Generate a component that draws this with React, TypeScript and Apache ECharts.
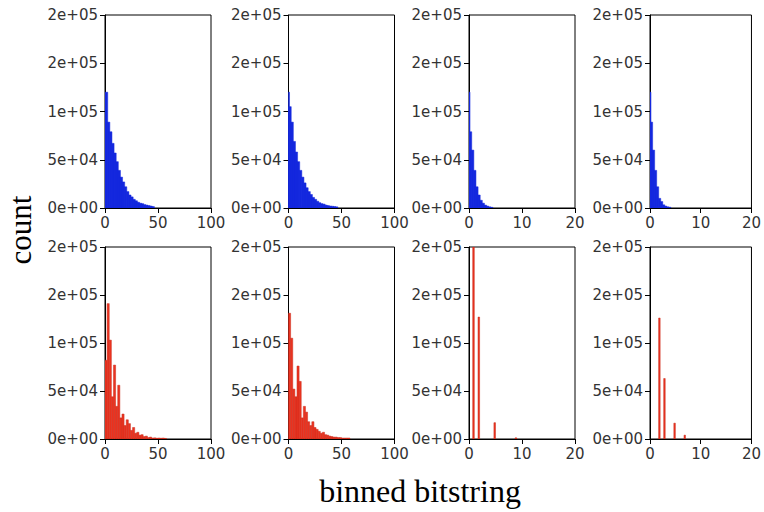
import React, { useEffect, useRef } from "react";
import * as echarts from "echarts";

// bin widths (x units) for the wide (0-100) and narrow (0-20) panels
const BIN_WIDE = 2;
const BIN_NARROW = 0.4;

// top row (blue) counts per bin
const countsA = [120000, 89000, 79000, 67000, 57000, 48000, 39000, 32000, 27000, 22000, 17000, 13500, 11500, 9000, 7500, 6000, 5000, 4500, 3500, 3000, 2500, 2000, 1500];
const countsB = [105000, 89000, 69000, 58000, 48000, 39000, 32000, 26000, 21000, 17000, 14000, 11000, 9000, 7000, 5500, 4500, 4000, 3000, 2500, 2000, 1800, 1500, 1200];
const countsC = [79000, 60000, 39000, 22000, 13500, 8000, 5000, 3000, 2000, 1200, 700];
const countsD = [89000, 60000, 39000, 22000, 10000, 6700, 3300, 2000, 1200, 800];
// thin spike at zero in the blue panels (count)
const zeroSpikeB = 120000;
const zeroSpikeC = 120000;
const zeroSpikeD = 120000;

// bottom row (red) counts per bin
const countsE = [82000, 141000, 103000, 44000, 77000, 34000, 56000, 22000, 26000, 14000, 20000, 16000, 9000, 12000, 6000, 7000, 4000, 4500, 2500, 3000, 1500, 2000, 1000, 1200, 800, 1000, 800, 1000, 600];
const countsF = [131000, 105000, 52000, 44000, 76000, 60000, 22000, 34000, 28000, 18000, 14000, 18000, 12000, 10000, 8000, 6000, 7000, 4500, 4000, 3000, 2500, 2000, 2000, 1500, 1500, 1000, 1000, 1000, 1000];
// isolated spikes: [position, count]
const spikesG: [number, number][] = [[1, 205000], [2, 127000], [5, 17000], [9, 1200]];
const spikesH: [number, number][] = [[2, 126000], [3, 63000], [5, 16500], [7, 4000]];

const xMaxes = [100, 100, 20, 20];
const xIntervals = [50, 50, 10, 10];
const Y_MAX = 200000;
const Y_INTERVAL = 50000;

const AXIS_LABEL_X = "binned bitstring";
const AXIS_LABEL_Y = "count";

function binsToRects(counts: number[], width: number): number[][] {
  return counts.map((c, i) => [i * width, (i + 1) * width, c]);
}
function spikesToRects(spikes: [number, number][], halfWidth: number, shift: number): number[][] {
  return spikes.map(([p, c]) => [p - halfWidth + shift, p + halfWidth + shift, c]);
}

const BLUE = "#1428de";
const BLUE_EDGE = "#1428de";
const RED = "#ec3320";
const RED_EDGE = "#c92c1c";

function yFmt(v: number): string {
  const s = v.toExponential(0); // e.g. "2e+5"
  const m = s.match(/^(-?\d)e([+-])(\d+)$/);
  if (!m) return s;
  return m[1] + "e" + m[2] + m[3].padStart(2, "0");
}

export default function App() {
  const ref = useRef<HTMLDivElement>(null);
  useEffect(() => {
    if (!ref.current) return;
    const chart = echarts.init(ref.current, null, { renderer: "svg" });

    const panelData: { rects: number[][]; color: string; edge: string; overlap: number }[] = [
      { rects: binsToRects(countsA, BIN_WIDE), color: BLUE, edge: BLUE_EDGE, overlap: 0.6 },
      { rects: [[0, 0.4, zeroSpikeB], ...binsToRects(countsB, BIN_WIDE)], color: BLUE, edge: BLUE_EDGE, overlap: 0.6 },
      { rects: [[0, 0.08, zeroSpikeC], ...binsToRects(countsC, BIN_NARROW)], color: BLUE, edge: BLUE_EDGE, overlap: 0.6 },
      { rects: [[0, 0.08, zeroSpikeD], ...binsToRects(countsD, BIN_NARROW)], color: BLUE, edge: BLUE_EDGE, overlap: 0.6 },
      { rects: binsToRects(countsE, BIN_WIDE), color: RED, edge: RED_EDGE, overlap: 0 },
      { rects: binsToRects(countsF, BIN_WIDE), color: RED, edge: RED_EDGE, overlap: 0 },
      { rects: spikesToRects(spikesG, 0.15, -0.15), color: RED, edge: RED_EDGE, overlap: 0 },
      { rects: spikesToRects(spikesH, 0.15, -0.15), color: RED, edge: RED_EDGE, overlap: 0 },
    ];

    const grids: any[] = [];
    const xAxes: any[] = [];
    const yAxes: any[] = [];
    const series: any[] = [];
    const lefts = [105, 288.5, 469, 650];
    const tops = [15, 247];
    const W = 106;
    const H = 193;

    for (let r = 0; r < 2; r++) {
      for (let c = 0; c < 4; c++) {
        const idx = r * 4 + c;
        grids.push({
          left: lefts[c],
          top: tops[r],
          width: W,
          height: r === 0 ? H : 192,
          show: true,
          borderColor: "#000",
          borderWidth: 1,
          backgroundColor: "transparent",
          containLabel: false,
        });
        xAxes.push({
          type: "value",
          gridIndex: idx,
          min: 0,
          max: xMaxes[c],
          interval: xIntervals[c],
          axisLine: { show: true, onZero: false, lineStyle: { color: "#000", width: 1 } },
          axisTick: { show: true, length: 5, lineStyle: { color: "#000" } },
          splitLine: { show: false },
          axisLabel: {
            margin: 7,
            fontFamily: "DejaVu Sans",
            fontSize: 15,
            color: "#333",
            showMinLabel: true,
            showMaxLabel: true,
          },
        });
        yAxes.push({
          type: "value",
          gridIndex: idx,
          min: 0,
          max: Y_MAX,
          interval: Y_INTERVAL,
          axisLine: { show: true, lineStyle: { color: "#000", width: 1 } },
          axisTick: { show: true, length: 5, lineStyle: { color: "#000" } },
          splitLine: { show: false },
          axisLabel: {
            margin: 7,
            fontFamily: "DejaVu Sans",
            fontSize: 15,
            color: "#333",
            formatter: (v: number) => yFmt(v),
            showMinLabel: true,
            showMaxLabel: true,
          },
        });
        const pd = panelData[idx];
        series.push({
          type: "custom",
          xAxisIndex: idx,
          yAxisIndex: idx,
          data: pd.rects,
          encode: { x: [0, 1], y: 2 },
          clip: true,
          renderItem: (params: any, api: any) => {
            const x0 = api.value(0);
            const x1 = api.value(1);
            const v = api.value(2);
            const p0 = api.coord([x0, v]);
            const p1 = api.coord([x1, 0]);
            const shape = echarts.graphic.clipRectByRect(
              { x: p0[0], y: p0[1], width: p1[0] - p0[0] + pd.overlap, height: p1[1] - p0[1] },
              {
                x: params.coordSys.x,
                y: params.coordSys.y,
                width: params.coordSys.width,
                height: params.coordSys.height,
              }
            );
            if (!shape) return null;
            return {
              type: "rect",
              shape,
              style: { fill: pd.color, stroke: pd.edge, lineWidth: 0.5 },
            };
          },
        });
      }
    }

    chart.setOption({
      animation: false,
      backgroundColor: "#fff",
      grid: grids,
      xAxis: xAxes,
      yAxis: yAxes,
      series,
      graphic: [
        {
          type: "text",
          x: 420,
          y: 491,
          style: {
            text: AXIS_LABEL_X,
            fontFamily: "Liberation Serif",
            fontSize: 32,
            fill: "#000",
            textAlign: "center",
            textVerticalAlign: "middle",
          },
        },
        {
          type: "text",
          x: 20,
          y: 230,
          rotation: Math.PI / 2,
          style: {
            text: AXIS_LABEL_Y,
            fontFamily: "Liberation Serif",
            fontSize: 31,
            fill: "#000",
            textAlign: "center",
            textVerticalAlign: "middle",
          },
        },
      ],
    });
    return () => chart.dispose();
  }, []);
  return (
    <div
      ref={ref}
      style={{ position: "fixed", left: 0, top: 0, width: 764, height: 512 }}
    />
  );
}
